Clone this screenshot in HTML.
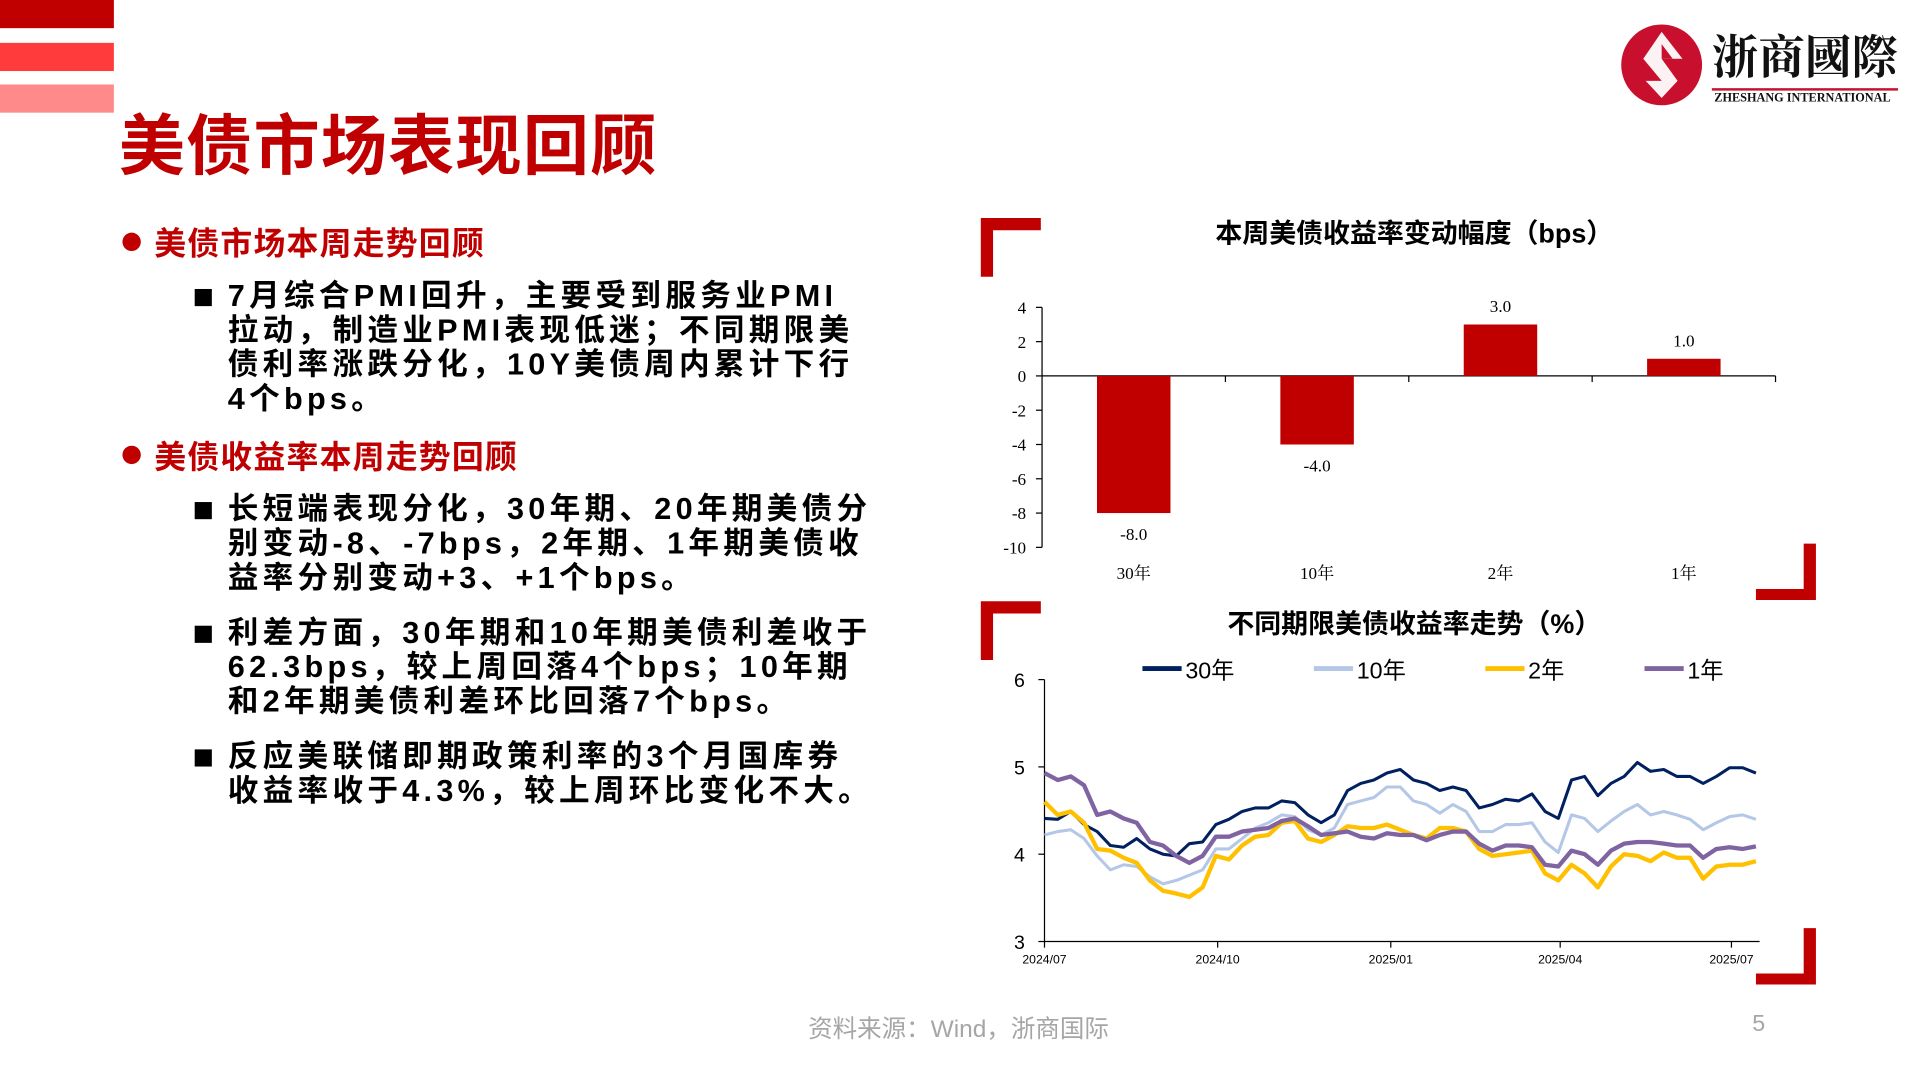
<!DOCTYPE html>
<html><head><meta charset="utf-8">
<style>
html,body{margin:0;padding:0;background:#fff;overflow:hidden}
#wrap{position:absolute;left:0;top:0;width:1568px;height:882px;transform:scale(1.2245);transform-origin:0 0;font-family:"Liberation Sans","Noto Sans CJK SC",sans-serif}
.abs{position:absolute}
.h1{left:97px;top:75px;font-size:54px;font-weight:bold;color:#c00000;white-space:nowrap;letter-spacing:1px}
.head{font-size:26px;font-weight:bold;color:#c00000;white-space:nowrap;letter-spacing:1px}
.dot{width:15px;height:15px;border-radius:50%;background:#c00000}
.sq{width:14px;height:14px;background:#000}
.body{font-size:25px;font-weight:bold;color:#000;line-height:28px;white-space:nowrap;letter-spacing:3.5px}
</style></head><body>
<div id="wrap">
<div class="abs" style="left:0;top:0;width:93px;height:23px;background:#c00000"></div>
<div class="abs" style="left:0;top:35px;width:93px;height:23px;background:#ff3b3b"></div>
<div class="abs" style="left:0;top:69px;width:93px;height:23px;background:#ff8a8a"></div>
<div class="abs h1">美债市场表现回顾</div>

<div class="abs" style="left:1322px;top:18px">
<svg width="70" height="70" viewBox="0 0 70 70"><circle cx="35" cy="35" r="33" fill="#c8102e"/><path d="M35 8 L52 30 L35 30 L48 48 L35 62 L22 48 L35 48 L20 30 Z" fill="#fff" opacity="0.95"/><path d="M35 18 L44 30 L35 30 Z" fill="#c8102e"/></svg>
</div>
<div class="abs" style="left:1398px;top:16px;font-size:38px;font-weight:bold;color:#111;white-space:nowrap;font-family:'Noto Serif CJK SC','Noto Sans CJK SC',serif">浙商國際</div>
<div class="abs" style="left:1398px;top:72px;width:152px;height:2px;background:#c8102e"></div>
<div class="abs" style="left:1400px;top:75px;font-size:10px;font-weight:bold;color:#111;white-space:nowrap;font-family:'Liberation Serif',serif">ZHESHANG INTERNATIONAL</div>

<div class="abs dot" style="left:100px;top:190px"></div>
<div class="abs head" style="left:126px;top:179px">美债市场本周走势回顾</div>
<div class="abs sq" style="left:159px;top:236px"></div>
<div class="abs body" style="left:186px;top:228px">7月综合PMI回升，主要受到服务业PMI<br>拉动，制造业PMI表现低迷；不同期限美<br>债利率涨跌分化，10Y美债周内累计下行<br>4个bps。</div>

<div class="abs dot" style="left:100px;top:364px"></div>
<div class="abs head" style="left:126px;top:353px">美债收益率本周走势回顾</div>
<div class="abs sq" style="left:159px;top:410px"></div>
<div class="abs body" style="left:186px;top:402px">长短端表现分化，30年期、20年期美债分<br>别变动-8、-7bps，2年期、1年期美债收<br>益率分别变动+3、+1个bps。</div>
<div class="abs sq" style="left:159px;top:511px"></div>
<div class="abs body" style="left:186px;top:503px">利差方面，30年期和10年期美债利差收于<br>62.3bps，较上周回落4个bps；10年期<br>和2年期美债利差环比回落7个bps。</div>
<div class="abs sq" style="left:159px;top:612px"></div>
<div class="abs body" style="left:186px;top:604px">反应美联储即期政策利率的3个月国库券<br>收益率收于4.3%，较上周环比变化不大。</div>

<div class="abs" style="left:660px;top:824px;font-size:20px;color:#a6a6a6;white-space:nowrap">资料来源：Wind，浙商国际</div>
<div class="abs" style="left:1431px;top:826px;font-size:19px;color:#a6a6a6">5</div>

<svg id="svg" class="abs" style="left:0;top:0" width="1568" height="882"></svg>
</div>
<script>
// Bar chart data
const barCats = ["30年","10年","2年","1年"];
const barVals = [-8.0,-4.0,3.0,1.0];
const barTicks = [4,2,0,-2,-4,-6,-8,-10];
// Line chart data (weekly, week index from 2024-07-01)
const lineWeeks = [0,1,2,3,4,5,6,7,8,9,10,11,12,13,14,15,16,17,18,19,20,21,22,23,24,25,26,27,28,29,30,31,32,33,34,35,36,37,38,39,40,41,42,43,44,45,46,47,48,49,50,51,52,53,54];
const y30 = [4.41,4.40,4.49,4.34,4.26,4.10,4.08,4.18,4.06,4.00,3.98,4.12,4.14,4.34,4.40,4.49,4.53,4.53,4.61,4.59,4.45,4.36,4.45,4.73,4.81,4.85,4.93,4.97,4.85,4.81,4.73,4.77,4.73,4.53,4.57,4.63,4.61,4.69,4.49,4.41,4.85,4.89,4.67,4.81,4.89,5.05,4.95,4.97,4.89,4.89,4.81,4.89,4.99,4.99,4.93];
const y10 = [4.22,4.26,4.28,4.18,3.98,3.82,3.88,3.86,3.74,3.66,3.70,3.76,3.82,4.06,4.06,4.18,4.30,4.36,4.45,4.43,4.28,4.22,4.30,4.57,4.61,4.65,4.77,4.77,4.61,4.57,4.47,4.57,4.49,4.26,4.26,4.34,4.34,4.36,4.14,4.02,4.45,4.41,4.26,4.38,4.49,4.57,4.45,4.49,4.45,4.40,4.28,4.36,4.43,4.45,4.40];
const y2 = [4.60,4.45,4.49,4.36,4.06,4.04,3.96,3.90,3.70,3.58,3.55,3.51,3.62,3.98,3.94,4.10,4.20,4.22,4.36,4.38,4.18,4.14,4.22,4.32,4.30,4.30,4.34,4.28,4.22,4.18,4.30,4.30,4.26,4.06,3.98,4.00,4.02,4.04,3.78,3.70,3.88,3.78,3.62,3.86,4.00,3.98,3.92,4.02,3.96,3.96,3.72,3.86,3.88,3.88,3.92];
const y1 = [4.93,4.85,4.89,4.79,4.45,4.49,4.41,4.36,4.14,4.10,3.98,3.90,3.98,4.20,4.20,4.26,4.28,4.30,4.38,4.41,4.32,4.22,4.24,4.26,4.20,4.18,4.24,4.22,4.22,4.16,4.22,4.26,4.26,4.12,4.04,4.10,4.10,4.08,3.88,3.86,4.04,4.00,3.88,4.04,4.12,4.14,4.14,4.12,4.10,4.10,3.96,4.06,4.08,4.06,4.09];
const lineTicksY = [3,4,5,6];
const dateLabels = ["2024/07","2024/10","2025/01","2025/04","2025/07"];
const dateDays = [0,92,184,274,365];
const seriesNames = ["30年","10年","2年","1年"];

const NS="http://www.w3.org/2000/svg";
const svg=document.getElementById('svg');
function mk(tag,attrs,name,parent){const e=document.createElementNS(NS,tag);for(const k in attrs)e.setAttribute(k,attrs[k]);


(parent||svg).appendChild(e);return e;}
function txt(x,y,s,attrs,name){const t=mk('text',Object.assign({x:x,y:y},attrs),name);t.textContent=s;return t;}

function bracketTL(x,y,name){mk('path',{d:`M${x} ${y} h49 v10 h-39 v38 h-10 z`,fill:'#c00000'},name);}
function bracketBR(x,y,name){mk('path',{d:`M${x} ${y} v46 h-49 v-9 h39 v-37 z`,fill:'#c00000'},name);}
bracketTL(801,178,'bar-chart-bracket-top');
bracketBR(1483,444,'bar-chart-bracket-bottom');
bracketTL(801,491,'line-chart-bracket-top');
bracketBR(1483,758,'line-chart-bracket-bottom');

// Bar chart
const bx0=851,bx1=1450;
function by(v){return 307-(v*14);}
txt(1155,198,'本周美债收益率变动幅度（bps）',{'text-anchor':'middle','font-size':22,'font-weight':'bold',fill:'#000'},'bar-chart-title');
mk('line',{x1:bx0,y1:by(4),x2:bx0,y2:by(-10),stroke:'#000','stroke-width':1},'bar-y-axis');
barTicks.forEach(t=>{mk('line',{x1:bx0-5,y1:by(t),x2:bx0,y2:by(t),stroke:'#000'},'bar-y-tick');
txt(838,by(t)+5,String(t),{'text-anchor':'end','font-size':14,'font-family':'"Liberation Serif",serif',fill:'#000'},'bar-y-tick-label');});
mk('line',{x1:bx0,y1:by(0),x2:bx1,y2:by(0),stroke:'#000','stroke-width':1},'bar-x-axis');
const bw=(bx1-bx0)/barCats.length;
barCats.forEach((c,i)=>{
 const cx=bx0+bw*(i+0.5), v=barVals[i];
 mk('line',{x1:bx0+bw*(i+1),y1:by(0),x2:bx0+bw*(i+1),y2:by(0)+5,stroke:'#000'},'bar-x-tick');
 mk('rect',{x:cx-30,y:Math.min(by(v),by(0)),width:60,height:Math.abs(by(v)-by(0)),fill:'#c00000'},'bar-'+c);
 txt(cx,v>=0?by(v)-10:by(v)+22,v.toFixed(1),{'text-anchor':'middle','font-size':14,'font-family':'"Liberation Serif",serif',fill:'#000'},'bar-value-label');
 txt(cx,473,c,{'text-anchor':'middle','font-size':14,'font-family':'"Liberation Serif","Noto Serif CJK SC",serif',fill:'#000'},'bar-category-label');
});

// Line chart
const lx0=853,lx1=1437;
function lx(d){return 853+d*1.537;}
function ly(v){return 555+(6-v)*71.3;}
txt(1155,517,'不同期限美债收益率走势（%）',{'text-anchor':'middle','font-size':22,'font-weight':'bold',fill:'#000'},'line-chart-title');
mk('line',{x1:lx0,y1:ly(6),x2:lx0,y2:ly(3),stroke:'#000'},'line-y-axis');
mk('line',{x1:lx0,y1:ly(3),x2:lx1,y2:ly(3),stroke:'#000'},'line-x-axis');
lineTicksY.forEach(t=>{mk('line',{x1:lx0-5,y1:ly(t),x2:lx0,y2:ly(t),stroke:'#000'},'line-y-tick');
txt(837,ly(t)+6,String(t),{'text-anchor':'end','font-size':16,fill:'#000'},'line-y-tick-label');});
dateLabels.forEach((d,i)=>{const x=lx(dateDays[i]);
mk('line',{x1:x,y1:ly(3),x2:x,y2:ly(3)+5,stroke:'#000'},'line-x-tick');
txt(x,787,d,{'text-anchor':'middle','font-size':10,fill:'#000'},'line-x-tick-label');});
const series=[[y30,'#002060',2.5],[y10,'#b4c7e7',2.5],[y2,'#ffc000',3.5],[y1,'#8064a2',3.5]];
const legX=[933,1073,1213,1343];
series.forEach((s,k)=>{
 const pts=lineWeeks.map((w,i)=>lx(w*7).toFixed(1)+','+ly(s[0][i]).toFixed(1)).join(' ');
 mk('polyline',{points:pts,fill:'none',stroke:s[1],'stroke-width':s[2],'stroke-linejoin':'round'},'line-series-'+seriesNames[k]);
 mk('line',{x1:legX[k],y1:546,x2:legX[k]+32,y2:546,stroke:s[1],'stroke-width':4},'legend-swatch-'+seriesNames[k]);
 txt(legX[k]+35,554,seriesNames[k],{'font-size':19,fill:'#000'},'legend-entry-'+seriesNames[k]);
});
</script>
</body></html>
